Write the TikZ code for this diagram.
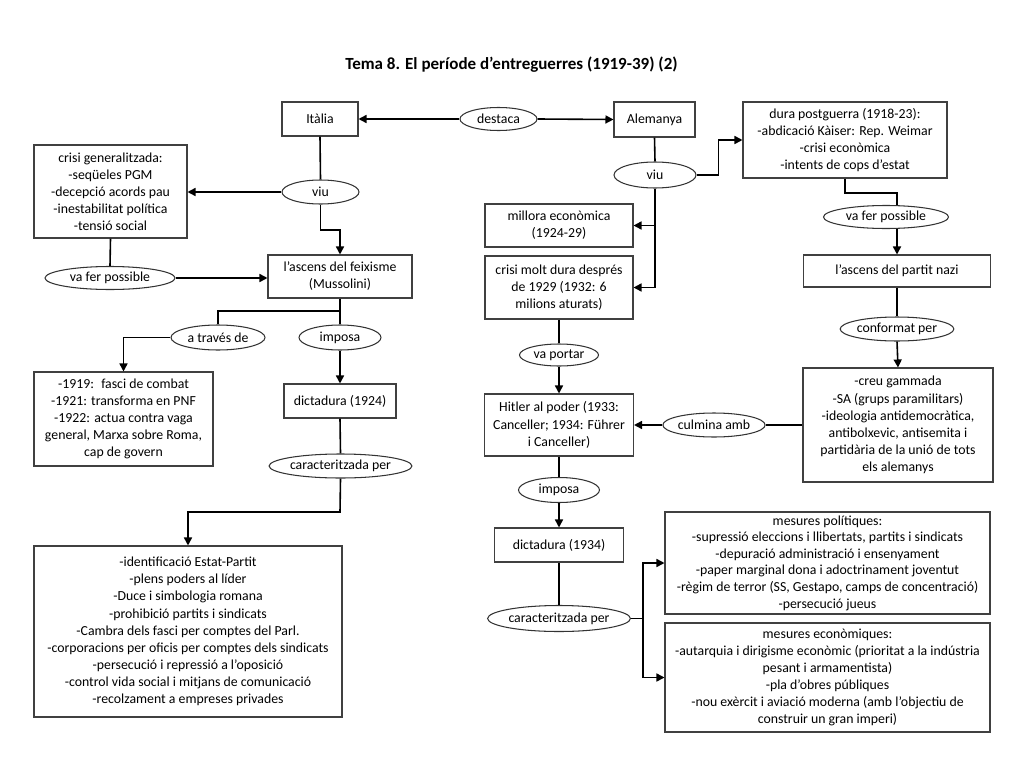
\documentclass[tikz,border=0pt]{standalone}
\usepackage{fontspec}
\setmainfont{Carlito}
\usetikzlibrary{shapes.geometric,arrows.meta}
\begin{document}
\begin{tikzpicture}[x=1pt,y=-1pt,
  every node/.style={font=\fontsize{13.8}{17.1}\selectfont, align=center, inner sep=0pt},
  box/.style={draw=black!75, line width=1.05pt, rectangle},
  oval/.style={draw=black!80, line width=1.05pt, ellipse},
  conn/.style={line width=1.6pt, black},
  arr/.style={conn, -{Triangle[length=8pt,width=8pt]}},
]
\useasboundingbox (0,0) rectangle (1024,768);
\node[font=\fontsize{17}{20}\selectfont\bfseries] (title) at (511.5,65) {Tema 8. El període d’entreguerres (1919-39) (2)};

% top row
\node[box, minimum width=76, minimum height=34] (italia) at (320,119) {Itàlia};
\node[oval, minimum width=77, minimum height=23] (destaca) at (498.5,119) {destaca};
\node[box, minimum width=81, minimum height=35] (alemanya) at (654.5,119.5) {Alemanya};
\node[box, minimum width=204, minimum height=76] (dura) at (845,140) {dura postguerra (1918-23):\\-abdicació Kàiser: Rep. Weimar\\-crisi econòmica\\-intents de cops d’estat};

% Italy
\node[oval, minimum width=77, minimum height=24] (viuI) at (320.5,192) {viu};
\node[box, minimum width=153, minimum height=93] (crisig) at (110.5,191.5) {crisi generalitzada:\\-seqüeles PGM\\-decepció acords pau\\-inestabilitat política\\-tensió social};
\node[oval, minimum width=130, minimum height=23] (vfpL) at (110,278) {va fer possible};
\node[box, minimum width=144, minimum height=43] (feix) at (340,276.5) {l’ascens del feixisme\\(Mussolini)};
\node[oval, minimum width=94, minimum height=25] (atraves) at (218,337.5) {a través de};
\node[oval, minimum width=82, minimum height=25] (imposaI) at (340,337.5) {imposa};
\node[box, minimum width=179, minimum height=94] (b1919) at (123.5,419) {-1919: \ fasci de combat\\-1921: transforma en PNF\\-1922: actua contra vaga\\general, Marxa sobre Roma,\\cap de govern};
\node[box, minimum width=112, minimum height=34] (dict24) at (340,401) {dictadura (1924)};
\node[oval, minimum width=129, minimum height=24] (carI) at (340.5,466) {caracteritzada per};
\node[box, minimum width=308, minimum height=171] (bigI) at (188,631.5) {-identificació Estat-Partit\\-plens poders al líder\\-Duce i simbologia romana\\-prohibició partits i sindicats\\-Cambra dels fasci per comptes del Parl.\\-corporacions per oficis per comptes dels sindicats\\-persecució i repressió a l’oposició\\-control vida social i mitjans de comunicació\\-recolzament a empreses privades};

% Germany
\node[oval, minimum width=82, minimum height=26] (viuA) at (655,175) {viu};
\node[box, minimum width=148, minimum height=43] (millora) at (559,225.5) {millora econòmica\\(1924-29)};
\node[box, minimum width=148, minimum height=63] (crisiA) at (559,287.5) {crisi molt dura després\\de 1929 (1932: 6\\milions aturats)};
\node[oval, minimum width=79, minimum height=22] (vaportar) at (559,355) {va portar};
\node[box, minimum width=149, minimum height=62] (hitler) at (559,425) {Hitler al poder (1933:\\Canceller; 1934: Führer\\i Canceller)};
\node[oval, minimum width=94, minimum height=24] (culmina) at (714,425) {culmina amb};
\node[oval, minimum width=81, minimum height=25] (imposaA) at (559,490) {imposa};
\node[box, minimum width=129, minimum height=34] (dict34) at (559,545) {dictadura (1934)};
\node[oval, minimum width=128, minimum height=26] (carA) at (559,618.5) {caracteritzada per};
\node[box, minimum width=325, minimum height=102, font=\fontsize{13.8}{16.6}\selectfont] (mespol) at (827.5,563) {mesures polítiques:\\-supressió eleccions i llibertats, partits i sindicats\\-depuració administració i ensenyament\\-paper marginal dona i adoctrinament joventut\\-règim de terror (SS, Gestapo, camps de concentració)\\-persecució jueus};
\node[box, minimum width=325, minimum height=109] (meseco) at (827.5,677.5) {mesures econòmiques:\\-autarquia i dirigisme econòmic (prioritat a la indústria\\pesant i armamentista)\\-pla d’obres públiques\\-nou exèrcit i aviació moderna (amb l’objectiu de\\construir un gran imperi)};

% right column
\node[oval, minimum width=125, minimum height=23] (vfpR) at (886,217) {va fer possible};
\node[box, minimum width=187, minimum height=32] (nazi) at (897,271) {l’ascens del partit nazi};
\node[oval, minimum width=108, minimum height=24] (confP) at (897,329) {conformat per};
\node[box, minimum width=190, minimum height=114] (creu) at (898,425) {-creu gammada\\-SA (grups paramilitars)\\-ideologia antidemocràtica,\\antibolxevic, antisemita i\\partidària de la unió de tots\\els alemanys};

% junction coordinates
\coordinate (jI1) at (340,311);
\coordinate (jI2) at (340,512);
\coordinate (jA) at (643,618.5);

% connectors: top
\draw[arr] (destaca.west) -- (italia.east);
\draw[arr] (destaca.east) -- (alemanya.west);

% Italy connectors
\draw[conn] (italia.south) -- (viuI.north);
\draw[arr] (viuI.west) -- (viuI.west -| crisig.east);
\draw[arr] (viuI.south) -- (viuI.south |- 0,230) -| (feix.north);
\draw[conn] (crisig.south) -- (vfpL.north);
\draw[arr] (vfpL.east) -- (vfpL.east -| feix.west);
\draw[conn] (feix.south) -- (jI1) -| (atraves.north);
\draw[conn] (jI1) -- (imposaI.north);
\draw[arr] (atraves.west) -| (b1919.north);
\draw[arr] (imposaI.south) -- (dict24.north);
\draw[conn] (dict24.south) -- (carI.north);
\draw[arr] (carI.south) -- (jI2) -| (bigI.north);

% Germany connectors
\draw[conn] (alemanya.south) -- (viuA.north);
\draw[arr] (viuA.east) -- ++(22,0) |- (dura.west);
\draw[arr] (viuA.south) |- (crisiA.east);
\draw[arr] (viuA.south |- millora.east) -- (millora.east);
\draw[conn] (crisiA.south) -- (vaportar.north);
\draw[arr] (vaportar.south) -- (hitler.north);
\draw[conn] (creu.west) -- (culmina.east);
\draw[arr] (culmina.west) -- (hitler.east);
\draw[conn] (hitler.south) -- (imposaA.north);
\draw[arr] (imposaA.south) -- (dict34.north);
\draw[conn] (dict34.south) -- (carA.north);
\draw[conn] (carA.east) -- (jA);
\draw[arr] (jA) |- (mespol.west);
\draw[arr] (jA) |- (meseco.west);

% right column connectors
\draw[conn] (dura.south) |- (nazi.north |- 0,193) -- (nazi.north |- vfpR.north);
\draw[arr] (nazi.north |- vfpR.south) -- (nazi.north);
\draw[conn] (nazi.south) -- (confP.north);
\draw[arr] (confP.south) -- (creu.north);
\end{tikzpicture}
\end{document}
